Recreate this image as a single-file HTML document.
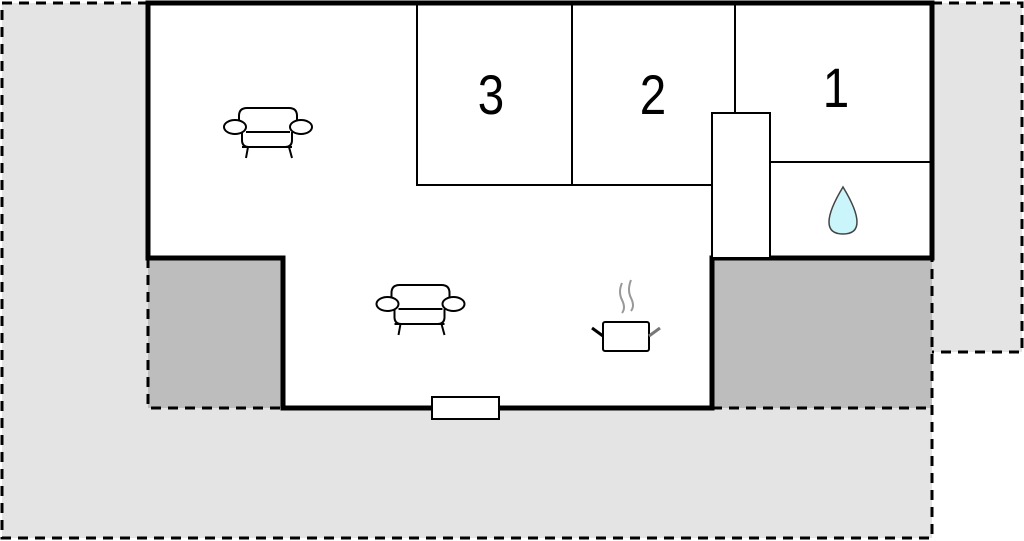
<!DOCTYPE html>
<html><head><style>body{margin:0;background:#fff}svg{display:block}</style></head><body>
<svg width="1024" height="541" viewBox="0 0 1024 541" xmlns="http://www.w3.org/2000/svg">
<path d="M2,3 H148 V408 H932 V538 H2 Z" fill="#e4e4e4"/>
<rect x="932" y="3" width="90" height="349" fill="#e4e4e4"/>
<rect x="148" y="258" width="135" height="150" fill="#bdbdbd"/>
<rect x="712" y="258" width="220" height="150" fill="#bdbdbd"/>
<g fill="none" stroke="#000" stroke-width="3" stroke-dasharray="10,7">
<path d="M148,3 H2 V538 H932 V258"/>
<path d="M932,3 H1022 V352 H932"/>
<path d="M148,258 V408 H283"/>
<path d="M712,408 H932"/>
</g>
<path d="M148,3 H932 V258 H712 V408 H283 V258 H148 Z" fill="#fff" stroke="#000" stroke-width="5"/>
<g fill="none" stroke="#000" stroke-width="2">
<path d="M417,3 V185 H712"/>
<path d="M572,3 V185"/>
<path d="M735,3 V113"/>
<rect x="712" y="113" width="58" height="145" fill="#fff"/>
<path d="M770,162 H932"/>
</g>
<rect x="432" y="397" width="67" height="22" fill="#fff" stroke="#000" stroke-width="2"/>
<g font-family="Liberation Sans, sans-serif" font-size="56" text-anchor="middle" fill="#000">
<text transform="translate(491,114) scale(0.85,1)">3</text>
<text transform="translate(653,114) scale(0.85,1)">2</text>
<text transform="translate(836,107) scale(0.85,1)">1</text>
</g>
<g id="s" fill="#fff" stroke="#000" stroke-width="2">
<path d="M239,122 V116 Q239,108 247,108 H289 Q297,108 297,116 V122"/>
<path d="M242,132 V140 Q242,147 249,147 H285 Q292,147 292,140 V132"/>
<line x1="246" y1="132" x2="290" y2="132"/>
<line x1="242" y1="147" x2="292" y2="147"/>
<ellipse cx="235" cy="127" rx="11" ry="7"/>
<ellipse cx="301" cy="127" rx="11" ry="7"/>
<line x1="248" y1="147" x2="246" y2="158"/>
<line x1="289" y1="147" x2="292" y2="158"/>
</g>
<use href="#s" transform="translate(152.5,177)"/>
<rect x="603" y="322" width="46" height="29" rx="2" fill="#fff" stroke="#000" stroke-width="2"/>
<line x1="603" y1="336" x2="592" y2="328" stroke="#000" stroke-width="3"/>
<line x1="649" y1="336" x2="660" y2="328" stroke="#777" stroke-width="3"/>
<path d="M622,283 Q618,292 622,300 Q626,308 622,313" fill="none" stroke="#999" stroke-width="2"/>
<path d="M631,280 Q627,290 631,298 Q635,306 631,311" fill="none" stroke="#999" stroke-width="2"/>
<path d="M843,187 Q829,210 829,222 Q829,234 843,234 Q857,234 857,222 Q857,210 843,187 Z" fill="#c9f5fb" stroke="#444" stroke-width="1.5"/>
</svg>
</body></html>
